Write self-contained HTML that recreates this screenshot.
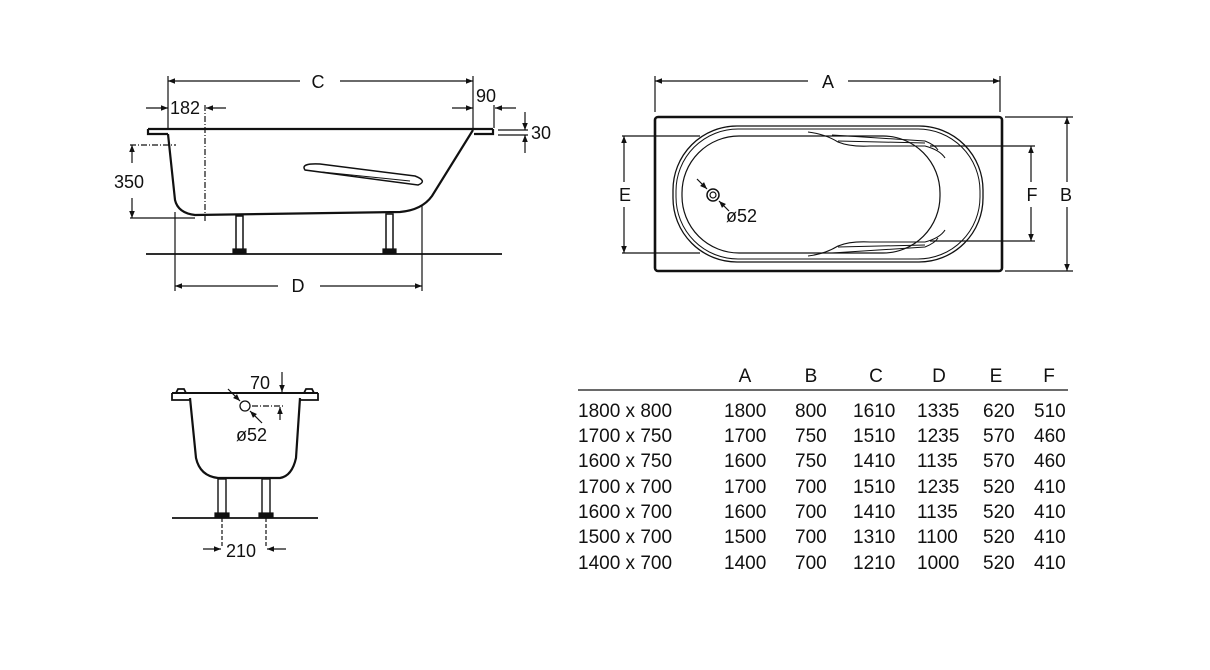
<!DOCTYPE html>
<html><head><meta charset="utf-8"><style>
html,body{margin:0;padding:0;background:#fff;}
svg{display:block;}
text{font-family:"Liberation Sans",Arial,sans-serif;fill:#111;}
</style></head><body>
<svg width="1210" height="670" viewBox="0 0 1210 670" xmlns="http://www.w3.org/2000/svg">
<defs>
<marker id="ar" viewBox="0 0 10 10" refX="10" refY="5" markerWidth="9" markerHeight="7" orient="auto-start-reverse" markerUnits="userSpaceOnUse"><path d="M0,1 L10,5 L0,9 z" fill="#111"/></marker>
</defs>
<g stroke="#111" fill="none" stroke-width="1.2">
<!-- SIDE VIEW -->
<line x1="168" y1="76" x2="168" y2="128"/><line x1="473" y1="76" x2="473" y2="128"/>
<line x1="168" y1="81" x2="300" y2="81" marker-start="url(#ar)"/>
<line x1="340" y1="81" x2="473" y2="81" marker-end="url(#ar)"/>
<line x1="146" y1="108" x2="168" y2="108" marker-end="url(#ar)"/>
<line x1="226" y1="108" x2="206" y2="108" marker-end="url(#ar)"/>
<line x1="205" y1="105" x2="205" y2="222" stroke-dasharray="6,2,1,2"/>
<line x1="452" y1="108" x2="473" y2="108" marker-end="url(#ar)"/>
<line x1="494" y1="105" x2="494" y2="128"/>
<line x1="516" y1="108" x2="495" y2="108" marker-end="url(#ar)"/>
<line x1="498" y1="130" x2="528" y2="130"/><line x1="498" y1="135" x2="528" y2="135"/>
<line x1="525" y1="112" x2="525" y2="130" marker-end="url(#ar)"/>
<line x1="525" y1="153" x2="525" y2="135" marker-end="url(#ar)"/>
<path d="M148,129 L493,129 M148,129 L148,134 L168,134" stroke-width="2.2"/>
<path d="M493,129 L493,134 L474,134" stroke-width="2.2"/>
<path d="M168,134 L175,200 Q178,213 195,215 L400,212 Q422,210 432,196 L473,130" stroke-width="2.2"/>
<path d="M305,170 Q300,163 320,164 L415,176 Q428,181 418,185 Z" stroke-width="1.5"/>
<path d="M322,172 L410,181" stroke-width="1"/>
<line x1="130" y1="145" x2="176" y2="145" stroke-dasharray="6,2,1,2"/>
<line x1="132" y1="163" x2="132" y2="145" marker-end="url(#ar)"/>
<line x1="132" y1="198" x2="132" y2="218" marker-end="url(#ar)"/>
<line x1="130" y1="218" x2="195" y2="218"/>
<rect x="236" y="216" width="7" height="34" stroke-width="1.5"/><rect x="233" y="249" width="13" height="4" fill="#111"/>
<rect x="386" y="214" width="7" height="36" stroke-width="1.5"/><rect x="383" y="249" width="13" height="4" fill="#111"/>
<line x1="146" y1="254" x2="502" y2="254" stroke-width="1.8"/>
<line x1="175" y1="212" x2="175" y2="291"/><line x1="422" y1="205" x2="422" y2="291"/>
<line x1="175" y1="286" x2="278" y2="286" marker-start="url(#ar)"/>
<line x1="320" y1="286" x2="422" y2="286" marker-end="url(#ar)"/>
<!-- PLAN VIEW -->
<line x1="655" y1="76" x2="655" y2="112"/><line x1="1000" y1="76" x2="1000" y2="112"/>
<line x1="655" y1="81" x2="808" y2="81" marker-start="url(#ar)"/>
<line x1="848" y1="81" x2="1000" y2="81" marker-end="url(#ar)"/>
<rect x="655" y="117" width="347" height="154" rx="3" stroke-width="2.6"/>
<rect x="673" y="126" width="310" height="136" rx="64" stroke-width="1.3"/>
<rect x="676" y="129" width="304" height="130" rx="62" stroke-width="1"/>
<rect x="682" y="136" width="258" height="117" rx="57" stroke-width="1.2"/>
<path d="M808,132 Q825,134 838,142 Q850,147 870,146 L925,146 Q940,150 945,158" stroke-width="1.1"/>
<path d="M832,135 L925,141 Q935,145 938,150 M838,141 L925,143" stroke-width="1"/>
<path d="M808,256 Q825,254 838,246 Q850,241 870,242 L925,242 Q940,238 945,230" stroke-width="1.1"/>
<path d="M832,253 L925,247 Q935,243 938,238 M838,247 L925,245" stroke-width="1"/>
<line x1="622" y1="136" x2="700" y2="136"/><line x1="622" y1="253" x2="700" y2="253"/>
<line x1="624" y1="182" x2="624" y2="136" marker-end="url(#ar)"/>
<line x1="624" y1="207" x2="624" y2="253" marker-end="url(#ar)"/>
<line x1="930" y1="146" x2="1035" y2="146"/><line x1="930" y1="241" x2="1035" y2="241"/>
<line x1="1031" y1="182" x2="1031" y2="146" marker-end="url(#ar)"/>
<line x1="1031" y1="207" x2="1031" y2="241" marker-end="url(#ar)"/>
<line x1="1005" y1="117" x2="1073" y2="117"/><line x1="1005" y1="271" x2="1073" y2="271"/>
<line x1="1067" y1="182" x2="1067" y2="117" marker-end="url(#ar)"/>
<line x1="1067" y1="207" x2="1067" y2="271" marker-end="url(#ar)"/>
<circle cx="713" cy="195" r="6" stroke-width="1.5"/><circle cx="713" cy="195" r="3"/>
<line x1="697" y1="179" x2="707" y2="189" marker-end="url(#ar)"/>
<line x1="729" y1="211" x2="719" y2="201" marker-end="url(#ar)"/>
<!-- SECTION VIEW -->
<line x1="282" y1="372" x2="282" y2="392" marker-end="url(#ar)"/>
<path d="M172,393 L318,393" stroke-width="2"/>
<path d="M172,393 L172,400 L190,400 M176,393 L178,389 L184,389 L186,393 M318,393 L318,400 L300,400 M314,393 L312,389 L306,389 L304,393" stroke-width="1.8"/>
<path d="M190,398 L196,458 Q200,476 218,478 L280,478 Q292,476 296,458 L300,398" stroke-width="2.2"/>
<circle cx="245" cy="406" r="5" stroke-width="1.3"/>
<line x1="228" y1="389" x2="240" y2="401" marker-end="url(#ar)"/>
<line x1="262" y1="423" x2="250" y2="411" marker-end="url(#ar)"/>
<line x1="252" y1="406" x2="285" y2="406" stroke-dasharray="6,2,1,2"/>
<line x1="280" y1="420" x2="280" y2="407" marker-end="url(#ar)"/>
<rect x="218" y="479" width="8" height="36" stroke-width="1.4"/><rect x="262" y="479" width="8" height="36" stroke-width="1.4"/>
<rect x="215" y="513" width="14" height="4" fill="#111"/><rect x="259" y="513" width="14" height="4" fill="#111"/>
<line x1="172" y1="518" x2="318" y2="518" stroke-width="1.8"/>
<line x1="222" y1="518" x2="222" y2="546" stroke-dasharray="4,2"/><line x1="266" y1="518" x2="266" y2="546" stroke-dasharray="4,2"/>
<line x1="203" y1="549" x2="221" y2="549" marker-end="url(#ar)"/>
<line x1="286" y1="549" x2="267" y2="549" marker-end="url(#ar)"/>
<!-- TABLE -->
<line x1="578" y1="390" x2="1068" y2="390" stroke-width="1.2"/>
</g>
<g font-size="18">
<text x="318" y="88" text-anchor="middle">C</text>
<text x="170" y="114">182</text>
<text x="476" y="102">90</text>
<text x="531" y="139">30</text>
<text x="114" y="188">350</text>
<text x="298" y="292" text-anchor="middle">D</text>
<text x="828" y="88" text-anchor="middle">A</text>
<text x="625" y="201" text-anchor="middle">E</text>
<text x="1032" y="201" text-anchor="middle">F</text>
<text x="1066" y="201" text-anchor="middle">B</text>
<text x="726" y="222">ø52</text>
<text x="250" y="389">70</text>
<text x="236" y="441">ø52</text>
<text x="226" y="557">210</text>
</g>
<g font-size="19">
<text x="745" y="382" text-anchor="middle">A</text><text x="811" y="382" text-anchor="middle">B</text><text x="876" y="382" text-anchor="middle">C</text><text x="939" y="382" text-anchor="middle">D</text><text x="996" y="382" text-anchor="middle">E</text><text x="1049" y="382" text-anchor="middle">F</text>
<g>
<text x="578" y="417">1800 x 800</text><text x="724" y="417">1800</text><text x="795" y="417">800</text><text x="853" y="417">1610</text><text x="917" y="417">1335</text><text x="983" y="417">620</text><text x="1034" y="417">510</text>
<text x="578" y="442">1700 x 750</text><text x="724" y="442">1700</text><text x="795" y="442">750</text><text x="853" y="442">1510</text><text x="917" y="442">1235</text><text x="983" y="442">570</text><text x="1034" y="442">460</text>
<text x="578" y="467">1600 x 750</text><text x="724" y="467">1600</text><text x="795" y="467">750</text><text x="853" y="467">1410</text><text x="917" y="467">1135</text><text x="983" y="467">570</text><text x="1034" y="467">460</text>
<text x="578" y="493">1700 x 700</text><text x="724" y="493">1700</text><text x="795" y="493">700</text><text x="853" y="493">1510</text><text x="917" y="493">1235</text><text x="983" y="493">520</text><text x="1034" y="493">410</text>
<text x="578" y="518">1600 x 700</text><text x="724" y="518">1600</text><text x="795" y="518">700</text><text x="853" y="518">1410</text><text x="917" y="518">1135</text><text x="983" y="518">520</text><text x="1034" y="518">410</text>
<text x="578" y="543">1500 x 700</text><text x="724" y="543">1500</text><text x="795" y="543">700</text><text x="853" y="543">1310</text><text x="917" y="543">1100</text><text x="983" y="543">520</text><text x="1034" y="543">410</text>
<text x="578" y="569">1400 x 700</text><text x="724" y="569">1400</text><text x="795" y="569">700</text><text x="853" y="569">1210</text><text x="917" y="569">1000</text><text x="983" y="569">520</text><text x="1034" y="569">410</text>
</g></g>
</svg>
</body></html>
